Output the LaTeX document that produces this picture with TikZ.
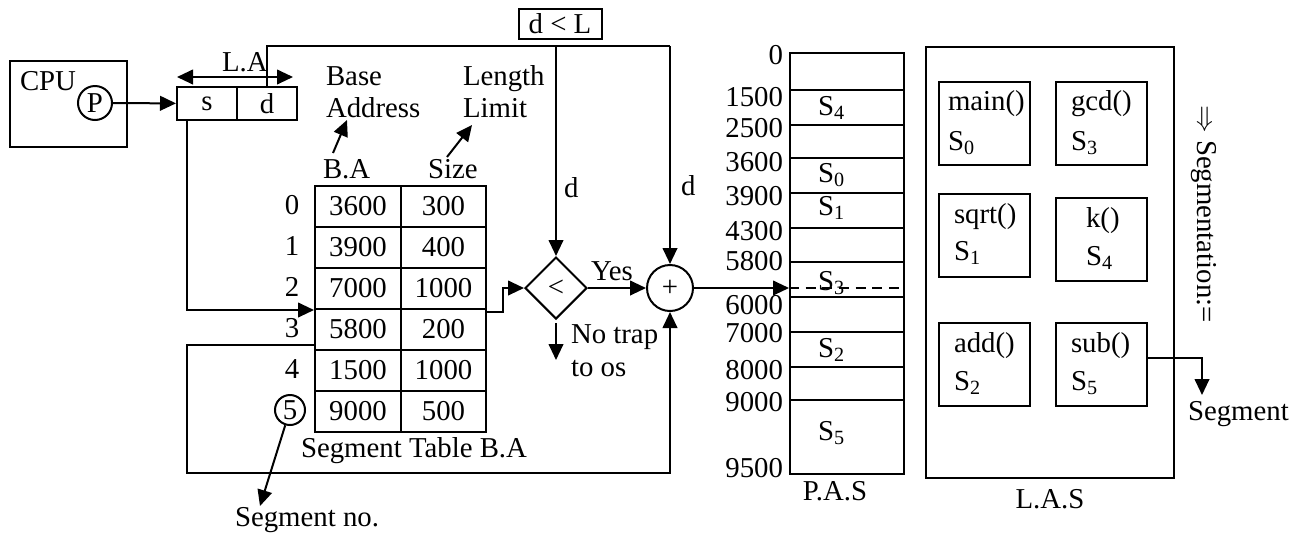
\documentclass[tikz,border=0pt]{standalone}
\usepackage{fontspec}
\setmainfont{Liberation Serif}
\usetikzlibrary{arrows.meta,shapes.geometric}
\newdimen\pxu \pxu=0.75pt
\begin{document}
\begin{tikzpicture}[x=0.75pt,y=-0.75pt,line width=1.5pt,
  every node/.style={font=\fontsize{21.6}{26}\selectfont, inner sep=0pt},
  box/.style={draw, rectangle},
  cell/.style={box, minimum height=41\pxu},
  fbox/.style={box, minimum width=91\pxu, minimum height=83\pxu},
  arr/.style={-{Triangle[length=12pt,width=11pt]}},
  dbl/.style={{Triangle[length=12pt,width=11pt]}-{Triangle[length=12pt,width=11pt]}},
  lbl/.style={anchor=base west}
  ]
\useasboundingbox (0,0) rectangle (1299,533);

% CPU and logical address
\node[box, minimum width=117\pxu, minimum height=86\pxu] (cpu) at (68.5,104) {};
\node[lbl] (cputxt) at (19,90) {CPU};
\node[draw, circle, minimum size=34\pxu] (p) at (95,103) {P};
\node[box, minimum width=60\pxu, minimum height=33\pxu] (s) at (207,103.5) {s};
\node[box, minimum width=60\pxu, minimum height=33\pxu] (d) at (267,103.5) {d};
\draw[arr] (p) -- (s);
\coordinate (la1) at (177,77);
\coordinate (la2) at (293,77);
\draw[dbl] (la1) -- (la2);
\node[lbl] (latxt) at (221,71) {L.A};

% labels above table
\node[lbl] (base1) at (325,85) {Base};
\node[lbl] (base2) at (325,117) {Address};
\node[lbl] (len1) at (462,85) {Length};
\node[lbl] (len2) at (462,117) {Limit};
\node[lbl] (batxt) at (322,178) {B.A};
\node[lbl] (sizetxt) at (427,178) {Size};
\coordinate (ba1) at (333,153);
\coordinate (ba2) at (347,120);
\draw[arr] (ba1) -- (ba2);
\coordinate (sz1) at (447,157);
\coordinate (sz2) at (472,125);
\draw[arr] (sz1) -- (sz2);

% segment table
\foreach \i/\b/\z in {0/3600/300,1/3900/400,2/7000/1000,3/5800/200,4/1500/1000,5/9000/500}{
  \node[cell, minimum width=86\pxu] (b\i) at (358,206.5+41*\i) {\b};
  \node[cell, minimum width=85\pxu] (z\i) at (443.5,206.5+41*\i) {\z};
}
\foreach \i in {0,...,4}{
  \node (r\i) at (292,205+41*\i) {\i};
}
\node[draw, circle, minimum size=30\pxu] (c5) at (290,410) {5};
\node[lbl] (sttxt) at (300,457) {Segment Table B.A};
\node[anchor=base] (sntxt) at (307,526) {Segment no.};
\coordinate (snt) at (260,506);
\draw[arr] (c5) -- (snt);

% s -> table
\coordinate (sdown) at (187,120);
\draw[arr] (sdown) |- (b2.south west);

% comparator and adder
\node[draw, diamond, aspect=1, minimum width=62\pxu, minimum height=62\pxu] (cmp) at (556,288) {<};
\node[draw, circle, minimum size=46\pxu] (pl) at (670,288) {+};
\coordinate (tout) at (486,312);
\draw[arr] (tout) -- ++(17,0) |- (cmp.west);

% return line from table
\coordinate (ret) at (315,345);
\coordinate (rc) at (187,473);
\draw[arr] (ret) -| (rc) -| (pl.south);

% d line
\coordinate (dtop) at (670,46);
\coordinate (dbr) at (556,46);
\draw (d.north) |- (dtop);
\draw[arr] (dtop) -- (pl.north);
\draw[arr] (dbr) -- (cmp.north);
\node[box, minimum width=83\pxu, minimum height=30\pxu] (dl) at (560,24) {d < L};
\node[lbl] (dtxt1) at (563,197) {d};
\node[lbl] (dtxt2) at (680,195) {d};

\draw[arr] (cmp.east) -- (pl.west);
\node[lbl] (yes) at (590,280) {Yes};
\coordinate (nt1) at (556,323);
\coordinate (nt2) at (556,360);
\draw[arr] (nt1) -- (nt2);
\node[lbl] (no1) at (570,343) {No trap};
\node[lbl] (no2) at (570,376) {to os};

% physical address space
\node[box, minimum width=114\pxu, minimum height=421\pxu] (pas) at (847,263.5) {};
\foreach \y in {90,125,158,193,228,262,297,332,367,400}{
  \draw (790,\y) -- (904,\y);
}
\foreach \v/\y in {0/55,1500/97,2500/128,3600/162,3900/196,4300/231,5800/261,6000/305,7000/333,8000/370,9000/402,9500/468}{
  \node[anchor=east] at (784,\y) {\v};
}
\foreach \k/\y in {4/115,0/182,1/215,3/290,2/357,5/440}{
  \node[lbl] at (817,\y) {S\textsubscript{\k}};
}
\draw[arr] (pl.east) -- (pl.east -| pas.west);
\draw[dash pattern=on 7.5pt off 5pt] (pl.east -| pas.west) -- (pl.east -| pas.east);
\node[anchor=base] (pastxt) at (835,500) {P.A.S};

% logical address space
\node[box, minimum width=248\pxu, minimum height=431\pxu] (las) at (1050,262.5) {};
\node[anchor=base] (lastxt) at (1050,508) {L.A.S};
\node[fbox] (fmain) at (984.5,123.5) {};
\node[fbox] (fgcd) at (1101,123.5) {};
\node[fbox] (fsqrt) at (984.5,235) {};
\node[fbox] (fk) at (1101,239) {};
\node[fbox] (fadd) at (984.5,364.5) {};
\node[fbox] (fsub) at (1101,364.5) {};
\node[lbl] at (947,110) {main()};
\node[lbl] at (947,150) {S\textsubscript{0}};
\node[lbl] at (1070,110) {gcd()};
\node[lbl] at (1070,150) {S\textsubscript{3}};
\node[lbl] at (953,223) {sqrt()};
\node[lbl] at (953,260) {S\textsubscript{1}};
\node[lbl] at (1085,227) {k()};
\node[lbl] at (1085,265) {S\textsubscript{4}};
\node[lbl] at (953,352) {add()};
\node[lbl] at (953,390) {S\textsubscript{2}};
\node[lbl] at (1070,352) {sub()};
\node[lbl] at (1070,390) {S\textsubscript{5}};

\coordinate (sa) at (1146.5,358);
\coordinate (segtip) at (1202,395);
\draw[arr] (sa) -| (segtip);
\node[lbl] (segtxt) at (1187,420) {Segment};
\node[rotate=-90] (segm) at (1204,214) {$\Rightarrow$ Segmentation:=};
\end{tikzpicture}
\end{document}
